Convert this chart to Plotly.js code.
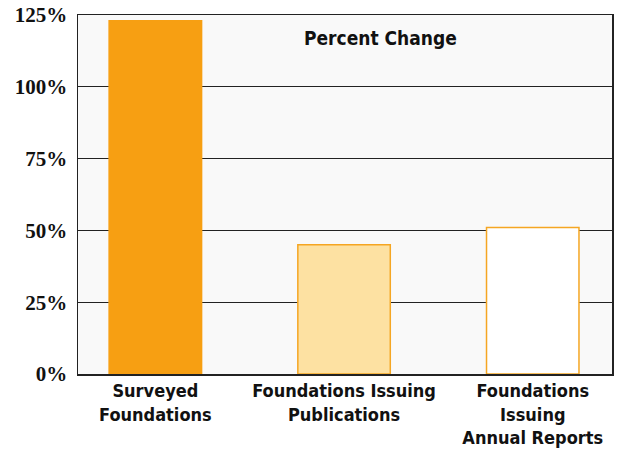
<!DOCTYPE html>
<html><head><meta charset="utf-8">
<script src="https://cdn.plot.ly/plotly-3.0.1.min.js"></script>
<style>body{margin:0;background:#fff}#c{width:617px;height:455px}</style>
</head><body><div id="c"></div>
<script>
const categories = ["Surveyed<br>Foundations", "Foundations Issuing<br>Publications", "Foundations<br>Issuing<br>Annual Reports"];
const values = [123, 45, 51];
const tickVals = [0, 25, 50, 75, 100, 125];
const tickText = ["0%", "25%", "50%", "75%", "100%", "125%"];
const fills = ["#F79F12", "#FDE1A2", "#FFFFFF"];
const lines = ["#F79F12", "#F5A623", "#F5A623"];

Plotly.newPlot("c", [{
  type: "bar",
  x: [0, 1, 2],
  y: values,
  width: 0.49,
  marker: {color: fills, line: {color: lines, width: 1.5}},
  hoverinfo: "none"
}], {
  width: 617, height: 455,
  margin: {l: 78, r: 5, t: 15, b: 81},
  paper_bgcolor: "#ffffff",
  plot_bgcolor: "#f9f9f9",
  showlegend: false,
  xaxis: {
    range: [-0.41, 2.42],
    tickvals: [0, 1, 2],
    ticktext: categories,
    showgrid: false, zeroline: false,
    showline: true, linecolor: "#222", linewidth: 1.5, mirror: true,
    ticks: "",
    tickfont: {family: "Liberation Sans Narrow, DejaVu Sans Condensed, sans-serif", size: 18, color: "#111", weight: "bold", lineposition: "none"}
  },
  yaxis: {
    range: [0, 125],
    tickvals: tickVals,
    ticktext: tickText,
    showgrid: true, gridcolor: "#222", gridwidth: 1,
    zeroline: false,
    showline: true, linecolor: "#222", linewidth: 1.5, mirror: true,
    ticks: "", ticklabelstandoff: 5,
    tickfont: {family: "Liberation Serif, serif", size: 21, color: "#111", weight: "bold"}
  },
  annotations: [{
    text: "Percent Change",
    xref: "paper", yref: "paper",
    x: 0.567, y: 0.935, xanchor: "center", yanchor: "middle",
    showarrow: false,
    font: {family: "Liberation Sans Narrow, DejaVu Sans Condensed, sans-serif", size: 19, color: "#111", weight: "bold"}
  }]
}, {displayModeBar: false, staticPlot: true});
</script></body></html>
